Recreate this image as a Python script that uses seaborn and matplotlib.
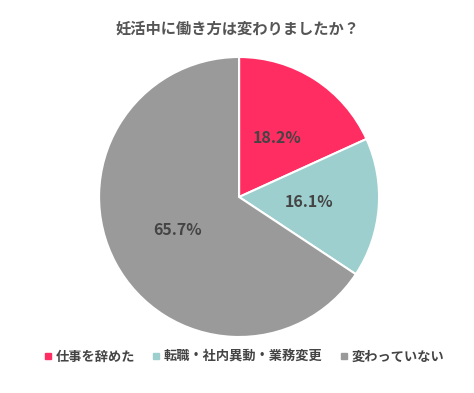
import matplotlib
matplotlib.use("Agg")
import matplotlib.pyplot as plt
from matplotlib.lines import Line2D
import seaborn as sns

# 妊活中の働き方の変化
labels = ['仕事を辞めた', '転職・社内異動・業務変更', '変わっていない']
shares = [18.2, 16.1, 65.7]
colors = ['#FF2D62', '#9DCFCF', '#9A9A9A']

sns.set_theme(style="white")
plt.rcParams['font.family'] = ['Noto Sans CJK JP', 'DejaVu Sans']

fig = plt.figure(figsize=(4.74, 3.93), dpi=100)
ax = fig.add_axes([0.209, 0.1425, 0.5907, 0.7125])

wedges, texts, autotexts = ax.pie(
    shares, colors=colors, startangle=90, counterclock=False,
    autopct='%1.1f%%', pctdistance=0.5,
    wedgeprops=dict(edgecolor='white', linewidth=1.5),
    textprops=dict(color='#444444', fontsize=11.5, fontweight='bold'))
ax.set_xlim(-1, 1)
ax.set_ylim(-1, 1)
ax.set_aspect('equal')

fig.text(0.5, 0.928, '妊活中に働き方は変わりましたか？', ha='center', va='center',
         fontsize=11, fontweight='bold', color='#555555')

handles = [Line2D([], [], marker='s', linestyle='', markersize=4,
                  markerfacecolor=c, markeredgecolor=c) for c in colors]
fig.legend(handles, labels, loc='center', bbox_to_anchor=(0.515, 0.093), ncol=3,
           frameon=False, handlelength=0.6, handletextpad=0.3, columnspacing=1.3,
           prop=dict(size=9.5, weight='bold'), labelcolor='#444444')

fig.savefig('out.png', dpi=100)
